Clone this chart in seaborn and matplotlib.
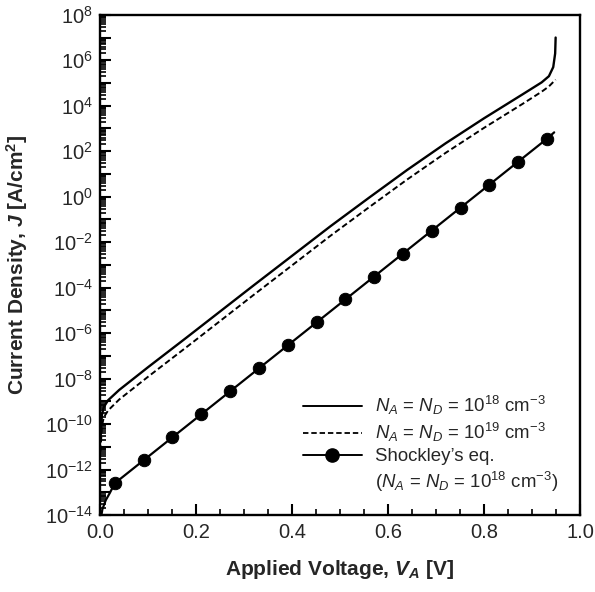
import numpy as np
import matplotlib
matplotlib.use("Agg")
import matplotlib.pyplot as plt
import matplotlib.ticker as mticker
from matplotlib.lines import Line2D
import seaborn as sns

# values, as log10(J [A/cm^2])
# N_A = N_D = 1e18 cm^-3 (solid)
volt_18 = [0.001, 0.004, 0.008, 0.017, 0.04, 0.07, 0.10, 0.14, 0.18, 0.25, 0.32, 0.40,
           0.48, 0.56, 0.64, 0.72, 0.80, 0.88, 0.92, 0.935, 0.944, 0.948, 0.949]
logj_18 = [-10.7, -9.6, -9.25, -8.95, -8.5, -8.0, -7.5, -6.85, -6.2, -5.05, -3.9, -2.6,
           -1.3, -0.05, 1.18, 2.35, 3.45, 4.5, 5.03, 5.3, 5.7, 6.3, 7.0]

# N_A = N_D = 1e19 cm^-3 (dashed)
volt_19 = [0.001, 0.004, 0.008, 0.017, 0.04, 0.07, 0.10, 0.14, 0.18, 0.25, 0.32, 0.40,
           0.48, 0.56, 0.64, 0.72, 0.80, 0.88, 0.92, 0.935, 0.949]
logj_19 = [-11.2, -10.1, -9.7, -9.4, -8.92, -8.42, -7.92, -7.27, -6.62, -5.47, -4.32, -3.02,
           -1.72, -0.47, 0.76, 1.93, 3.03, 4.08, 4.62, 4.85, 5.15]

# Shockley's equation: markers + line ends
sh_v = [0.031, 0.091, 0.151, 0.211, 0.271, 0.331, 0.391, 0.451,
        0.511, 0.571, 0.631, 0.691, 0.751, 0.811, 0.871, 0.931]
sh_logj = [-12.6, -11.59, -10.58, -9.57, -8.56, -7.55, -6.54, -5.53,
           -4.52, -3.51, -2.50, -1.49, -0.48, 0.53, 1.54, 2.55]
sh_start_v = [0.0015, 0.005, 0.012, 0.02]
sh_start_logj = [-14.2, -13.75, -13.35, -13.05]
sh_end_v = [0.946]
sh_end_logj = [2.83]

legend_labels = [r"$N_A$ = $N_D$ = 10$^{18}$ cm$^{-3}$",
                 r"$N_A$ = $N_D$ = 10$^{19}$ cm$^{-3}$",
                 "Shockley\u2019s eq.",
                 r"($N_A$ = $N_D$ = 10$^{18}$ cm$^{-3}$)"]

sns.set_theme(style="white")
plt.rcParams["font.family"] = ["Liberation Sans", "DejaVu Sans"]
plt.rcParams["mathtext.fontset"] = "custom"
plt.rcParams["mathtext.rm"] = "Liberation Sans"
plt.rcParams["mathtext.it"] = "Liberation Sans:italic"
plt.rcParams["mathtext.bf"] = "Liberation Sans:bold"
plt.rcParams["mathtext.bfit"] = "Liberation Sans:bold:italic"

fig = plt.figure(figsize=(5.95, 5.92), dpi=100)
ax = fig.add_axes([0.168, 0.130, 0.807, 0.845])

j_18 = 10.0 ** np.array(logj_18)
j_19 = 10.0 ** np.array(logj_19)
sh_j = 10.0 ** np.array(sh_logj)
line_v = sh_start_v + sh_v + sh_end_v
line_j = 10.0 ** np.array(sh_start_logj + sh_logj + sh_end_logj)

sns.lineplot(x=volt_18, y=j_18, ax=ax, color="black", lw=1.7, sort=False, estimator=None)
sns.lineplot(x=volt_19, y=j_19, ax=ax, color="black", lw=1.4, sort=False, estimator=None,
             linestyle=(0, (3, 1.6)))
sns.lineplot(x=line_v, y=line_j, ax=ax, color="black", lw=1.6, sort=False, estimator=None)
sns.scatterplot(x=sh_v, y=sh_j, ax=ax, color="black", s=80, edgecolor="black", zorder=5)

ax.set_yscale("log")
ax.set_xlim(0, 1.0)
ax.set_ylim(1e-14, 1e8)

ax.xaxis.set_major_locator(mticker.MultipleLocator(0.2))
ax.xaxis.set_minor_locator(mticker.MultipleLocator(0.05))
ax.xaxis.set_major_formatter(mticker.FormatStrFormatter("%.1f"))
ax.yaxis.set_major_locator(mticker.FixedLocator([10.0 ** k for k in range(-14, 9)]))
ax.yaxis.set_minor_locator(mticker.LogLocator(base=10, subs=np.arange(2, 10), numticks=40))


def fmt_y(val, pos):
    e = int(round(np.log10(val)))
    return r"$10^{%d}$" % e if e % 2 == 0 else ""


ax.yaxis.set_major_formatter(mticker.FuncFormatter(fmt_y))
ax.yaxis.set_minor_formatter(mticker.NullFormatter())

ax.tick_params(axis="both", which="major", direction="in", length=8, width=1.5,
               labelsize=14.5, top=False, right=False, bottom=True, left=True, color="black")
ax.tick_params(axis="both", which="minor", direction="in", length=4.5, width=1.2,
               top=False, right=False, bottom=True, left=True, color="black")
ax.tick_params(axis="x", which="major", pad=6)
ax.tick_params(axis="y", which="major", pad=5)
for sp in ax.spines.values():
    sp.set_color("black")
    sp.set_linewidth(1.7)

ax.set_xlabel(r"Applied Voltage, $\mathbfit{V_A}$ [V]", fontsize=15, fontweight="bold")
ax.set_ylabel(r"Current Density, $\mathbfit{J}$ [A/cm$^\mathbf{2}$]", fontsize=15,
              fontweight="bold")
ax.xaxis.set_label_coords(0.5, -0.085)
ax.yaxis.set_label_coords(-0.145, 0.5)

handles = [Line2D([], [], color="black", lw=1.4),
           Line2D([], [], color="black", lw=1.3, linestyle=(0, (3, 1.6))),
           Line2D([], [], color="black", lw=1.4, marker="o", markersize=9.5),
           Line2D([], [], color="none")]
ax.legend(handles, legend_labels, loc="upper left", bbox_to_anchor=(0.422, 0.242),
          frameon=False, fontsize=13.4, handlelength=3.2, handletextpad=0.7,
          labelspacing=0.22, borderpad=0, borderaxespad=0)

fig.savefig("out.png", dpi=100)
